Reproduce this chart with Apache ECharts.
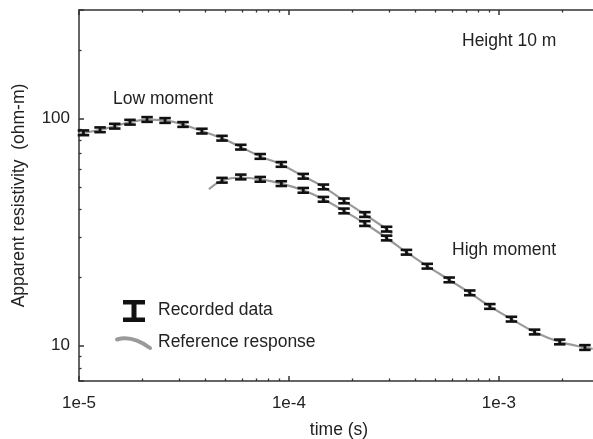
<!DOCTYPE html>
<html>
<head>
<meta charset="utf-8">
<script src="https://cdn.jsdelivr.net/npm/echarts@6/dist/echarts.min.js"></script>
<style>
html,body{margin:0;padding:0;background:#fff;}
#chart{width:593px;height:439px;}
</style>
</head>
<body>
<div id="chart"></div>
<script>
// ---- data ----
const timeLow = [1.05e-5, 1.26e-5, 1.48e-5, 1.75e-5, 2.11e-5, 2.57e-5, 3.13e-5, 3.85e-5, 4.8e-5, 5.9e-5, 7.3e-5, 9.2e-5, 1.17e-4, 1.46e-4, 1.83e-4, 2.3e-4, 2.92e-4];
const rhoLow  = [86.5, 89.2, 92.5, 96.3, 99.0, 98.0, 94.1, 88.0, 81.9, 74.8, 68.1, 62.8, 55.7, 50.0, 43.4, 37.8, 32.6];

const timeHigh = [4.8e-5, 5.9e-5, 7.3e-5, 9.2e-5, 1.17e-4, 1.46e-4, 1.83e-4, 2.3e-4, 2.92e-4, 3.63e-4, 4.56e-4, 5.8e-4, 7.27e-4, 9.06e-4, 1.148e-3, 1.48e-3, 1.95e-3, 2.57e-3];
const rhoHigh  = [53.5, 55.3, 54.0, 51.7, 48.3, 44.1, 39.2, 34.5, 29.8, 25.8, 22.4, 19.5, 17.1, 14.9, 13.1, 11.5, 10.4, 9.83];

// relative error of the recorded data (percent)
const errPct = 2.4;

// reference response curves
const refLowT   = [1e-5, 1.26e-5, 1.48e-5, 1.75e-5, 2.11e-5, 2.57e-5, 3.13e-5, 3.85e-5, 4.8e-5, 5.9e-5, 7.3e-5, 9.2e-5, 1.17e-4, 1.46e-4, 1.83e-4, 2.3e-4, 2.92e-4, 3.1e-4];
const refLowRho = [85.5, 89.2, 92.5, 96.3, 98.8, 98.0, 94.1, 88.0, 81.9, 74.8, 68.1, 62.8, 55.7, 50.0, 43.4, 37.8, 32.6, 31.2];
const refHighT   = [4.16e-5, 4.8e-5, 5.9e-5, 7.3e-5, 9.2e-5, 1.17e-4, 1.46e-4, 1.83e-4, 2.3e-4, 2.92e-4, 3.63e-4, 4.56e-4, 5.8e-4, 7.27e-4, 9.06e-4, 1.148e-3, 1.48e-3, 1.95e-3, 2.57e-3, 2.8e-3];
const refHighRho = [48.9, 53.3, 55.0, 54.0, 51.7, 48.3, 44.1, 39.2, 34.5, 29.8, 25.8, 22.4, 19.5, 17.1, 14.9, 13.1, 11.5, 10.4, 9.83, 9.7];

// axes
const xMin = 1e-5, xMax = 3e-3;
const yMin = 7, yMax = 300;
const minorX = [2e-5,3e-5,4e-5,5e-5,6e-5,7e-5,8e-5,9e-5,2e-4,3e-4,4e-4,5e-4,6e-4,7e-4,8e-4,9e-4,2e-3];
const minorY = [8,9,20,30,40,50,60,70,80,90,200];

const FONT = "'Liberation Sans', Arial, Helvetica, sans-serif";
const TXT = '#222';
const AX = '#333';

const pairs = (a, b) => a.map((v, i) => [v, b[i]]);

function isDecade(v) {
  const l = Math.log10(v);
  return Math.abs(l - Math.round(l)) < 1e-6;
}

function errRender(params, api) {
  const t = api.value(0), r = api.value(1), e = api.value(2) / 100;
  const c = api.coord([t, r]);
  const hi = api.coord([t, r * (1 + e)]);
  const lo = api.coord([t, r * (1 - e)]);
  const w = 11.5, th = 2.6, sw = 2.8;
  const fill = '#111';
  return {
    type: 'group',
    children: [
      {type: 'rect', shape: {x: c[0] - w / 2, y: hi[1] - th / 2, width: w, height: th}, style: {fill}},
      {type: 'rect', shape: {x: c[0] - w / 2, y: lo[1] - th / 2, width: w, height: th}, style: {fill}},
      {type: 'rect', shape: {x: c[0] - sw / 2, y: hi[1], width: sw, height: lo[1] - hi[1]}, style: {fill}}
    ]
  };
}

const baseX = {type: 'log', logBase: 10, min: xMin, max: xMax, splitLine: {show: false}};
const baseY = {type: 'log', logBase: 10, min: yMin, max: yMax, splitLine: {show: false}};

const option = {
  animation: false,
  backgroundColor: '#fff',
  grid: {left: 79, right: -6, top: 10, bottom: 58, containLabel: false, outerBoundsMode: 'none'},
  textStyle: {fontFamily: FONT},
  xAxis: [
    Object.assign({}, baseX, {
      position: 'bottom',
      axisLine: {show: true, onZero: false, lineStyle: {color: AX, width: 1.5}},
      axisTick: {show: true, inside: true, length: 5, lineStyle: {color: AX, width: 1.5}},
      axisLabel: {show: true, margin: 14, color: TXT, fontSize: 17, fontFamily: FONT,
        formatter: v => isDecade(v) ? '1e' + Math.round(Math.log10(v)) : ''},
      name: 'time (s)', nameLocation: 'middle', nameGap: 40,
      nameTextStyle: {color: TXT, fontSize: 17.5, fontFamily: FONT}
    }),
    Object.assign({}, baseX, {
      position: 'bottom',
      axisLine: {show: false, onZero: false},
      axisTick: {show: true, inside: true, length: 2.5, customValues: minorX, lineStyle: {color: AX, width: 1.3}},
      axisLabel: {show: false}
    }),
    Object.assign({}, baseX, {
      position: 'top',
      axisLine: {show: true, onZero: false, lineStyle: {color: AX, width: 1.5}},
      axisTick: {show: true, inside: true, length: 5, lineStyle: {color: AX, width: 1.5}},
      axisLabel: {show: false}
    }),
    Object.assign({}, baseX, {
      position: 'top',
      axisLine: {show: false, onZero: false},
      axisTick: {show: true, inside: true, length: 2.5, customValues: minorX, lineStyle: {color: AX, width: 1.3}},
      axisLabel: {show: false}
    })
  ],
  yAxis: [
    Object.assign({}, baseY, {
      position: 'left',
      axisLine: {show: true, lineStyle: {color: AX, width: 1.5}},
      axisTick: {show: true, inside: true, length: 5, lineStyle: {color: AX, width: 1.5}},
      axisLabel: {show: true, margin: 9, color: TXT, fontSize: 17, fontFamily: FONT,
        formatter: v => isDecade(v) ? String(Math.round(v)) : ''},
      name: 'Apparent resistivity  (ohm-m)', nameLocation: 'middle', nameGap: 51, nameRotate: 90,
      nameTextStyle: {color: TXT, fontSize: 17.5, fontFamily: FONT}
    }),
    Object.assign({}, baseY, {
      position: 'left',
      axisLine: {show: false},
      axisTick: {show: true, inside: true, length: 2.5, customValues: minorY, lineStyle: {color: AX, width: 1.3}},
      axisLabel: {show: false}
    })
  ],
  series: [
    {type: 'line', name: 'Reference low', data: pairs(refLowT, refLowRho), smooth: 0.3, showSymbol: false,
      lineStyle: {color: '#9a9a9a', width: 2.2}, z: 2, silent: true},
    {type: 'line', name: 'Reference high', data: pairs(refHighT, refHighRho), smooth: 0.3, showSymbol: false,
      lineStyle: {color: '#9a9a9a', width: 2.2}, z: 2, silent: true},
    {type: 'custom', name: 'Low moment', renderItem: errRender, z: 5,
      data: timeLow.map((t, i) => [t, rhoLow[i], errPct])},
    {type: 'custom', name: 'High moment', renderItem: errRender, z: 5,
      data: timeHigh.map((t, i) => [t, rhoHigh[i], errPct])}
  ],
  graphic: [
    {type: 'text', left: 113, top: 90, style: {text: 'Low moment', fill: TXT, font: '17.5px ' + FONT}},
    {type: 'text', left: 462, top: 32, style: {text: 'Height 10 m', fill: TXT, font: '17.5px ' + FONT}},
    {type: 'text', left: 452, top: 241, style: {text: 'High moment', fill: TXT, font: '17.5px ' + FONT}},
    // legend: recorded data
    {type: 'rect', shape: {x: 123, y: 300, width: 22, height: 4.5}, style: {fill: '#111'}},
    {type: 'rect', shape: {x: 123, y: 317.5, width: 22, height: 4.5}, style: {fill: '#111'}},
    {type: 'rect', shape: {x: 131.5, y: 300, width: 5, height: 22}, style: {fill: '#111'}},
    {type: 'text', left: 158, top: 301, style: {text: 'Recorded data', fill: TXT, font: '17.5px ' + FONT}},
    // legend: reference response
    {type: 'bezierCurve', shape: {x1: 117, y1: 339.5, x2: 150, y2: 348, cpx1: 132, cpy1: 335}, style: {stroke: '#9a9a9a', lineWidth: 4, fill: null, lineCap: 'round'}},
    {type: 'text', left: 158, top: 333, style: {text: 'Reference response', fill: TXT, font: '17.5px ' + FONT}}
  ]
};

const chart = echarts.init(document.getElementById('chart'), null, {renderer: 'canvas'});
chart.setOption(option);
</script>
</body>
</html>
